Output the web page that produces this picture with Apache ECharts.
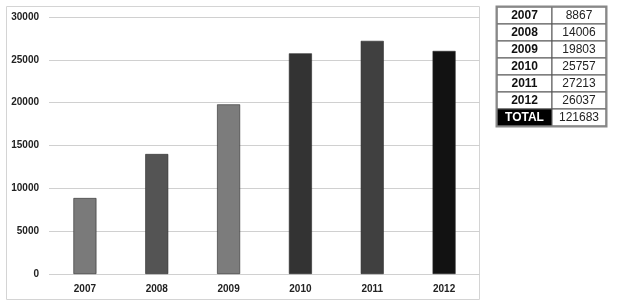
<!DOCTYPE html>
<html><head><meta charset="utf-8">
<script src="https://cdn.jsdelivr.net/npm/echarts@6/dist/echarts.min.js"></script>
<style>html,body{margin:0;padding:0;background:#fff}#c{width:638px;height:306px}</style>
</head><body><div id="c"></div>
<script>
const years = ['2007','2008','2009','2010','2011','2012'];
const values = [8867, 14006, 19803, 25757, 27213, 26037];
const barColors = ['#7a7a7a','#545454','#7c7c7c','#333333','#404040','#121212'];
const yTicks = [0, 5000, 10000, 15000, 20000, 25000, 30000];
const totalLabel = 'TOTAL';
const total = values.reduce((a,b)=>a+b,0);

const chart = echarts.init(document.getElementById('c'), null, {renderer:'canvas'});

const tx = 497, ty = 7, c1 = 55, c2 = 54, rh = 17;
const g = [];
g.push({type:'rect', shape:{x:6.5,y:6.5,width:473,height:293}, style:{fill:'none',stroke:'#d4d4d4',lineWidth:1}, z:-1});
const rows = years.map((y,i)=>[y, String(values[i])]).concat([[totalLabel, String(total)]]);
rows.forEach((r,i)=>{
  const yy = ty + i*rh;
  const isTotal = i === rows.length-1;
  g.push({type:'rect', shape:{x:tx,y:yy,width:c1,height:rh}, style:{fill:isTotal?'#000':'#fff',stroke:'#555',lineWidth:1}});
  g.push({type:'rect', shape:{x:tx+c1,y:yy,width:c2,height:rh}, style:{fill:'#fff',stroke:'#555',lineWidth:1}});
  g.push({type:'text', x:tx+c1/2, y:yy+rh/2+0.5, style:{text:r[0], fill:isTotal?'#fff':'#111', font:'bold 12px "Liberation Sans", Arial', align:'center', verticalAlign:'middle'}, z:10});
  g.push({type:'text', x:tx+c1+c2/2, y:yy+rh/2+0.5, style:{text:r[1], fill:'#222', font:'12px "Liberation Sans", Arial', align:'center', verticalAlign:'middle'}, z:10});
});
g.push({type:'rect', shape:{x:tx-0.5,y:ty-0.5,width:c1+c2+1,height:rh*rows.length+1}, style:{fill:'none',stroke:'#888',lineWidth:2}, z:11});

chart.setOption({
  animation:false,
  grid:{left:49, right:158, top:17, bottom:32, containLabel:false},
  xAxis:{type:'category', data:years,
    axisLine:{show:false}, axisTick:{show:false},
    axisLabel:{color:'#222', fontWeight:'bold', fontSize:10, fontFamily:'Liberation Sans, Arial', margin:10}},
  yAxis:{type:'value', min:yTicks[0], max:yTicks[yTicks.length-1], interval:yTicks[1]-yTicks[0],
    axisLine:{show:false}, axisTick:{show:false},
    splitLine:{lineStyle:{color:'#d0d0d0', width:1}},
    axisLabel:{color:'#222', fontWeight:'bold', fontSize:10, fontFamily:'Liberation Sans, Arial', margin:10,
      formatter:(v)=>String(v)}},
  series:[{type:'bar', barWidth:23,
    data: values.map((v,i)=>({value:v, itemStyle:{color:barColors[i], borderColor:'#2a2a2a', borderWidth:0.6}}))}],
  graphic:g
});
</script></body></html>
